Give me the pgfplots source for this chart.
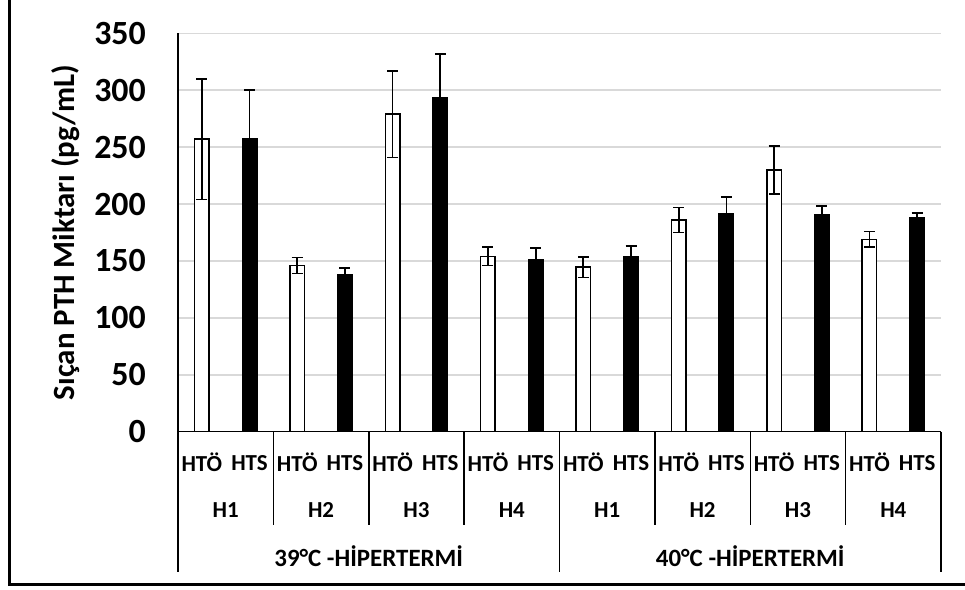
\documentclass[border=0pt]{standalone}
\usepackage{pgfplots}
\pgfplotsset{compat=1.18}
\usepackage{pgfplotstable}
\usepackage{fontspec}
\setmainfont{Carlito}

\pgfplotstableread{
x y e
0 257 53
2 146 7
4 279 38
6 154 8
8 144.5 9
10 186 11
12 230 21
14 169 7
}\hto

\pgfplotstableread{
x y e
1 258 42
3 138 6
5 294 38
7 151.5 10
9 153.5 9.5
11 192 14
13 190.5 8
15 188 4
}\hts

\definecolor{gridgray}{HTML}{D9D9D9}
\newcommand{\catfont}{\bfseries\fontsize{23}{23}\selectfont}

\begin{document}
\begin{tikzpicture}
\useasboundingbox (0,0) rectangle (965bp,-590bp);
% chart area border (left and bottom only)
\draw[line width=3bp] (9bp,0) -- (9bp,-584bp) -- (965bp,-584bp);

\begin{axis}[
  at={(178bp,-431.7bp)}, anchor=south west,
  scale only axis, width=763bp, height=398.4bp,
  xmin=-0.5, xmax=15.5, ymin=0, ymax=350,
  ytick={0,50,...,350},
  xtick={0,...,15},
  xticklabels={HTÖ,HTS,HTÖ,HTS,HTÖ,HTS,HTÖ,HTS,HTÖ,HTS,HTÖ,HTS,HTÖ,HTS,HTÖ,HTS},
  major tick length=0pt,
  axis x line=bottom, axis y line=left,
  axis line style={-, line width=1.5bp, black},
  ymajorgrids, grid style={draw=gridgray, line width=1.5bp},
  /pgf/number format/assume math mode=true,
  yticklabel style={font=\bfseries\fontsize{34}{34}\selectfont, anchor=east, inner sep=0pt, xshift=-32bp},
  xticklabel style={font=\catfont, anchor=center, inner sep=0pt, yshift=-31bp},
  ylabel={Sıçan PTH Miktarı (pg/mL)},
  every axis y label/.style={at={(rel axis cs:0,0.5)}, xshift=-112bp, rotate=90, anchor=center,
    font=\bfseries\fontsize{31}{31}\selectfont},
  clip=false,
]
\addplot[ybar, bar shift=0pt, bar width=14.5bp, fill=white, draw=black, line width=1.5bp,
  error bars/.cd, y dir=both, y explicit,
  error bar style={line width=1.7bp, black, solid},
  error mark options={rotate=90, line width=1.7bp, black, mark size=5.5bp}]
  table[x=x, y=y, y error=e] {\hto};
\addplot[ybar, bar shift=0pt, bar width=15bp, fill=black, draw=black, line width=1bp,
  error bars/.cd, y dir=both, y explicit,
  error bar style={line width=1.7bp, black, solid},
  error mark options={rotate=90, line width=1.7bp, black, mark size=5.5bp}]
  table[x=x, y=y, y error=e] {\hts};

% category separators
\pgfplotsinvokeforeach{1.5,3.5,5.5,9.5,11.5,13.5}{
  \draw[line width=1.5bp] (axis cs:#1,0) -- ([yshift=-93bp]axis cs:#1,0);
}
\pgfplotsinvokeforeach{-0.5,7.5,15.5}{
  \draw[line width=1.5bp] (axis cs:#1,0) -- ([yshift=-140.3bp]axis cs:#1,0);
}

% second level
\node[font=\catfont] at ([yshift=-78bp]axis cs:0.5,0) {H1};
\node[font=\catfont] at ([yshift=-78bp]axis cs:2.5,0) {H2};
\node[font=\catfont] at ([yshift=-78bp]axis cs:4.5,0) {H3};
\node[font=\catfont] at ([yshift=-78bp]axis cs:6.5,0) {H4};
\node[font=\catfont] at ([yshift=-78bp]axis cs:8.5,0) {H1};
\node[font=\catfont] at ([yshift=-78bp]axis cs:10.5,0) {H2};
\node[font=\catfont] at ([yshift=-78bp]axis cs:12.5,0) {H3};
\node[font=\catfont] at ([yshift=-78bp]axis cs:14.5,0) {H4};

% third level
\node[font=\bfseries\fontsize{25}{25}\selectfont] at ([yshift=-124bp]axis cs:3.5,0) {39°C -HİPERTERMİ};
\node[font=\bfseries\fontsize{25}{25}\selectfont] at ([yshift=-124bp]axis cs:11.5,0) {40°C -HİPERTERMİ};
\end{axis}
\end{tikzpicture}
\end{document}
